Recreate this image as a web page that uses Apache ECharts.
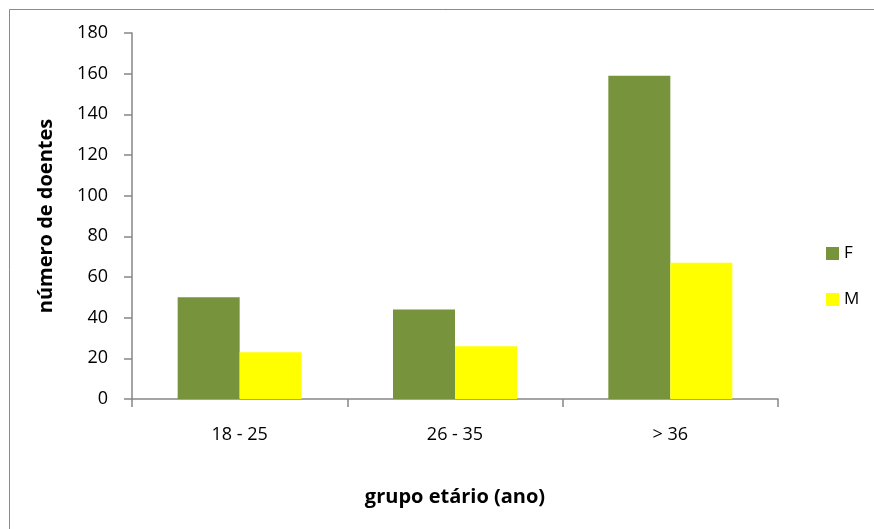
<!DOCTYPE html>
<html>
<head>
<meta charset="utf-8">
<script src="https://cdn.jsdelivr.net/npm/echarts@6/dist/echarts.min.js"></script>
<style>
  html, body { margin: 0; padding: 0; background: #fff; }
  #chart { width: 874px; height: 529px; }
</style>
</head>
<body>
<div id="chart"></div>
<script>
// grupos etários e número de doentes por sexo
const categories = ['18 - 25', '26 - 35', '> 36']
const seriesF = [50, 44, 159]
const seriesM = [23, 26, 67]
const yTicks = { min: 0, max: 180, interval: 20 }

const font = '"Open Sans", Lato, sans-serif'
const axisGray = '#868686'

const chart = echarts.init(document.getElementById('chart'))

chart.setOption({
  backgroundColor: '#fff',
  animation: false,
  textStyle: { fontFamily: font },
  graphic: [{
    type: 'rect',
    shape: { x: 9.5, y: 9.5, width: 880, height: 540 },
    style: { fill: 'none', stroke: '#8a8a8a', lineWidth: 1 },
    silent: true
  }],
  grid: { left: 132, right: 96, top: 33, bottom: 130 },
  legend: {
    orient: 'vertical',
    left: 821,
    top: 240,
    itemWidth: 13,
    itemHeight: 13,
    itemGap: 29,
    icon: 'rect',
    textStyle: { fontSize: 17, color: '#000', fontFamily: font, padding: [0, 0, 0, 0] },
    data: ['F', 'M']
  },
  xAxis: {
    type: 'category',
    data: categories,
    name: 'grupo etário (ano)',
    nameLocation: 'middle',
    nameGap: 88,
    nameTextStyle: { fontSize: 20, fontWeight: 'bold', color: '#000', fontFamily: font },
    axisLine: { lineStyle: { color: axisGray, width: 1.5 } },
    axisTick: { show: true, length: 8, alignWithLabel: false, lineStyle: { color: axisGray, width: 1.5 } },
    axisLabel: { fontSize: 18, color: '#000', margin: 27, fontFamily: font }
  },
  yAxis: {
    type: 'value',
    min: yTicks.min,
    max: yTicks.max,
    interval: yTicks.interval,
    name: 'número de doentes',
    nameLocation: 'middle',
    nameGap: 76,
    nameRotate: 90,
    nameTextStyle: { fontSize: 20, fontWeight: 'bold', color: '#000', fontFamily: font },
    splitLine: { show: false },
    axisLine: { show: true, lineStyle: { color: axisGray, width: 1.5 } },
    axisTick: { show: true, length: 8, lineStyle: { color: axisGray, width: 1.5 } },
    axisLabel: { fontSize: 18, color: '#000', margin: 24, fontFamily: font }
  },
  series: [
    {
      name: 'F',
      type: 'bar',
      data: seriesF,
      barWidth: 62,
      barGap: '0%',
      itemStyle: { color: '#77933C' }
    },
    {
      name: 'M',
      type: 'bar',
      data: seriesM,
      barWidth: 62,
      itemStyle: { color: '#FFFF00' }
    }
  ]
})
</script>
</body>
</html>
